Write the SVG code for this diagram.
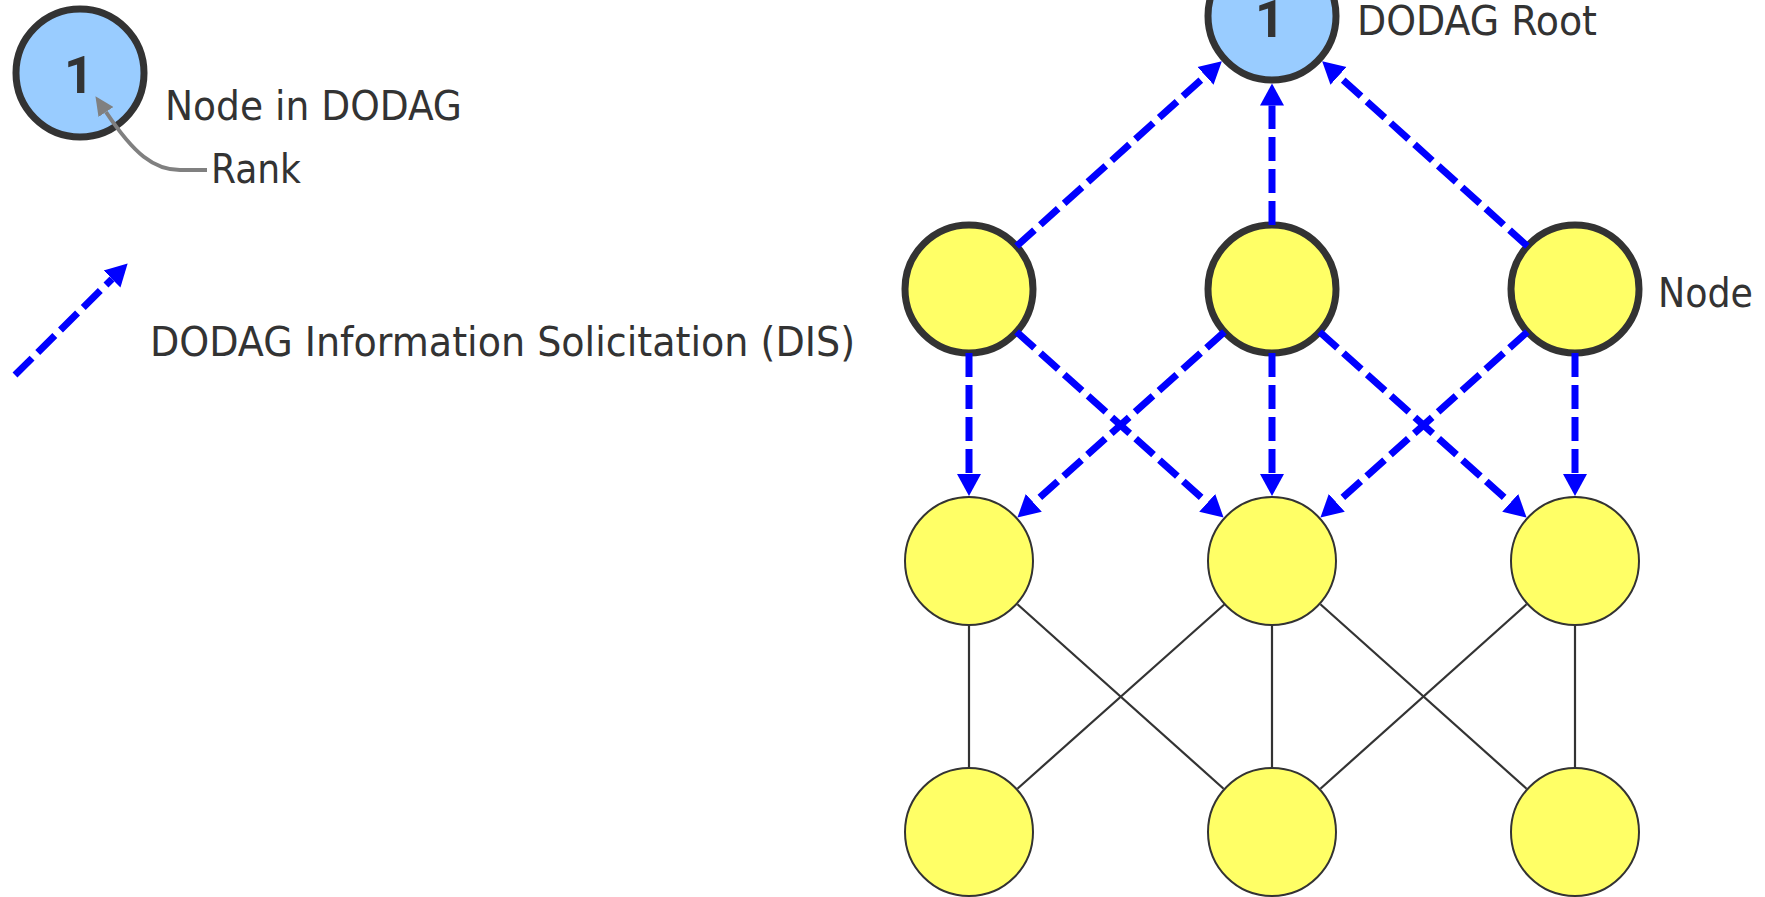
<svg xmlns="http://www.w3.org/2000/svg" width="1765" height="897" viewBox="0 0 1765 897">
<defs>
<style>
.lbl{font-family:"DejaVu Sans Condensed","DejaVu Sans",sans-serif;font-stretch:condensed;font-size:41px;fill:#333333}
.rank{font-family:Roboto,'Liberation Sans',sans-serif;font-weight:700;font-size:52px;fill:#333333;text-anchor:middle}
.thick{stroke:#333333;stroke-width:7}
.thin{stroke:#333333;stroke-width:2}
.blue{fill:#99CCFF}
.yel{fill:#FFFF66}
.dis{stroke:#0000FF;stroke-width:7;fill:none;stroke-dasharray:24 8;marker-end:url(#blueArrow)}
.link{stroke:#333333;stroke-width:2.2;fill:none}
</style>
<marker id="blueArrow" markerUnits="userSpaceOnUse" markerWidth="24" markerHeight="26" refX="0" refY="12" orient="auto" viewBox="0 0 24 24">
<path d="M0,0 L22,12 L0,24 z" fill="#0000FF"/>
</marker>
<marker id="greyArrow" markerUnits="userSpaceOnUse" markerWidth="20" markerHeight="18" refX="0" refY="9" orient="auto" viewBox="0 0 20 18">
<path d="M0,0 L19,9 L0,18 z" fill="#808080"/>
</marker>
</defs>
<rect width="1765" height="897" fill="#FFFFFF"/>

<g id="legend-node">
<circle cx="80" cy="73" r="64" class="blue thick"/>
<text x="79" y="93" class="rank">1</text>
<text x="165" y="120" class="lbl" textLength="297" lengthAdjust="spacingAndGlyphs">Node in DODAG</text>
</g>
<g id="legend-rank">
<path d="M207,170 L180,170 C154,170 134,154 106,112" stroke="#808080" stroke-width="4" fill="none" marker-end="url(#greyArrow)"/>
<text x="211" y="183" class="lbl" textLength="90" lengthAdjust="spacingAndGlyphs">Rank</text>
</g>
<g id="legend-dis">
<line x1="15" y1="375" x2="112" y2="279" class="dis"/>
<text x="150" y="356" class="lbl" textLength="705" lengthAdjust="spacingAndGlyphs">DODAG Information Solicitation (DIS)</text>
</g>

<g id="root">
<circle cx="1272" cy="16" r="64" class="blue thick"/>
<text x="1270" y="37" class="rank">1</text>
<text x="1357" y="35" class="lbl" textLength="240" lengthAdjust="spacingAndGlyphs">DODAG Root</text>
</g>
<g id="a1"><circle cx="969" cy="289" r="64" class="yel thick"/></g>
<g id="a2"><circle cx="1272" cy="289" r="64" class="yel thick"/></g>
<g id="a3"><circle cx="1575" cy="289" r="64" class="yel thick"/>
<text x="1658" y="307" class="lbl" textLength="95" lengthAdjust="spacingAndGlyphs">Node</text></g>
<g id="b1"><circle cx="969" cy="561" r="64" class="yel thin"/></g>
<g id="b2"><circle cx="1272" cy="561" r="64" class="yel thin"/></g>
<g id="b3"><circle cx="1575" cy="561" r="64" class="yel thin"/></g>
<g id="c1"><circle cx="969" cy="832" r="64" class="yel thin"/></g>
<g id="c2"><circle cx="1272" cy="832" r="64" class="yel thin"/></g>
<g id="c3"><circle cx="1575" cy="832" r="64" class="yel thin"/></g>

<g id="connectors">
<line x1="1016.6" y1="246.2" x2="1205.5" y2="75.9" class="dis"/>
<line x1="1272" y1="225" x2="1272" y2="105.5" class="dis"/>
<line x1="1527.4" y1="246.2" x2="1338.5" y2="75.9" class="dis"/>
<line x1="969" y1="353" x2="969" y2="474" class="dis"/>
<line x1="1016.6" y1="331.8" x2="1207.2" y2="502.9" class="dis"/>
<line x1="1224.4" y1="331.8" x2="1033.8" y2="502.9" class="dis"/>
<line x1="1272" y1="353" x2="1272" y2="474" class="dis"/>
<line x1="1319.6" y1="331.8" x2="1510.2" y2="502.9" class="dis"/>
<line x1="1527.4" y1="331.8" x2="1336.8" y2="502.9" class="dis"/>
<line x1="1575" y1="353" x2="1575" y2="474" class="dis"/>
<line x1="969" y1="626" x2="969" y2="767" class="link"/>
<line x1="1017.4" y1="604.3" x2="1223.6" y2="788.7" class="link"/>
<line x1="1224.6" y1="604.3" x2="1017.4" y2="788.7" class="link"/>
<line x1="1272" y1="626" x2="1272" y2="767" class="link"/>
<line x1="1320.4" y1="604.3" x2="1526.6" y2="788.7" class="link"/>
<line x1="1526.6" y1="604.3" x2="1320.4" y2="788.7" class="link"/>
<line x1="1575" y1="626" x2="1575" y2="767" class="link"/>
</g>
</svg>
